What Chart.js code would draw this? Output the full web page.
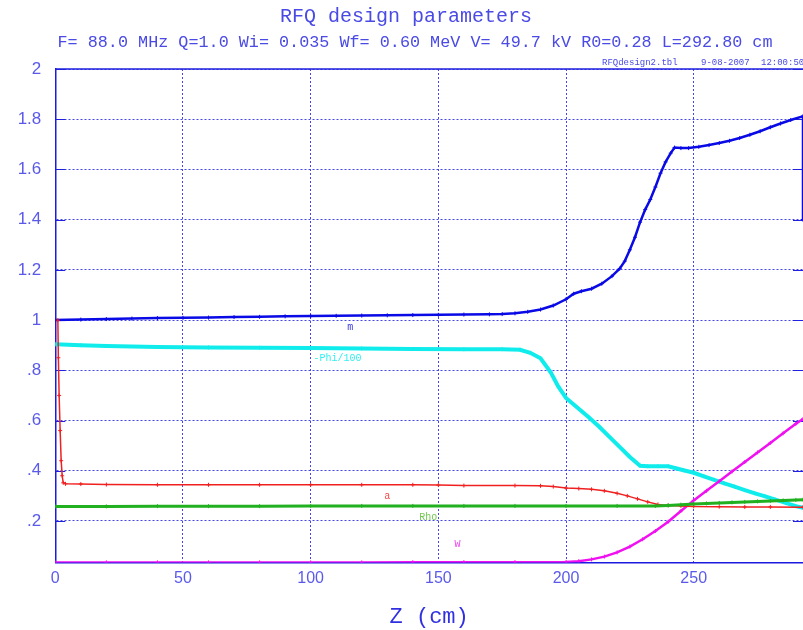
<!DOCTYPE html>
<html>
<head>
<meta charset="utf-8">
<title>RFQ design parameters</title>
<script src="https://cdn.jsdelivr.net/npm/chart.js@4.4.1/dist/chart.umd.min.js"></script>
<style>
  html, body { margin: 0; padding: 0; background: #fff; overflow: hidden; }
  canvas { display: block; }
</style>
</head>
<body>
<canvas id="rfqChart" width="803" height="630"></canvas>
<script>
// texts
const titleText = 'RFQ design parameters';
const subtitleText = 'F= 88.0 MHz Q=1.0 Wi= 0.035 Wf= 0.60 MeV V= 49.7 kV R0=0.28 L=292.80 cm';
const stampFile = 'RFQdesign2.tbl';
const stampDate = '9-08-2007';
const stampTime = '12:00:50';
const xTitle = 'Z (cm)';

// axes
const xTicks = [0, 50, 100, 150, 200, 250];
const yTicks = [0.2, 0.4, 0.6, 0.8, 1.0, 1.2, 1.4, 1.6, 1.8, 2.0];

// m
const zM = [0, 10, 20, 30, 40, 50, 60, 70, 80, 90, 100, 110, 120, 130, 140, 150, 160, 170, 175, 180, 185, 190, 195, 200, 203, 206, 210, 214, 218, 221, 223, 225, 227, 229, 231, 233, 235, 237, 239, 241, 242.5, 245, 248, 252, 256, 260, 264, 268, 272, 276, 280, 284, 288, 292.8, 292.8];
const mVals = [1.000, 1.002, 1.004, 1.006, 1.008, 1.009, 1.010, 1.012, 1.013, 1.015, 1.016, 1.017, 1.018, 1.019, 1.020, 1.021, 1.022, 1.023, 1.024, 1.027, 1.033, 1.042, 1.058, 1.083, 1.105, 1.115, 1.125, 1.145, 1.175, 1.205, 1.235, 1.28, 1.33, 1.39, 1.44, 1.48, 1.53, 1.585, 1.63, 1.665, 1.687, 1.685, 1.685, 1.690, 1.697, 1.705, 1.714, 1.725, 1.738, 1.752, 1.768, 1.783, 1.797, 1.812, 1.40];

// -Phi/100
const zPhi = [0, 10, 20, 40, 60, 80, 100, 120, 140, 160, 175, 182, 186, 190, 194, 197, 200, 203, 206, 209, 213, 217, 221, 225, 229, 232, 236, 240, 243, 246, 250, 254, 258, 262, 266, 270, 274, 278, 282, 286, 290, 292.8];
const phiVals = [0.904, 0.900, 0.897, 0.893, 0.891, 0.890, 0.889, 0.887, 0.885, 0.884, 0.884, 0.882, 0.870, 0.848, 0.792, 0.735, 0.690, 0.664, 0.638, 0.612, 0.575, 0.535, 0.495, 0.455, 0.420, 0.418, 0.418, 0.418, 0.410, 0.402, 0.392, 0.378, 0.364, 0.350, 0.337, 0.323, 0.310, 0.298, 0.285, 0.272, 0.259, 0.252];

// a
const zA = [1.0, 1.2, 1.5, 1.9, 2.3, 2.7, 3.1, 4, 10, 20, 40, 60, 80, 100, 120, 140, 150, 160, 180, 190, 195, 200, 205, 210, 215, 220, 224, 228, 232, 236, 240, 245, 250, 260, 270, 280, 292.8];
const aVals = [1.0, 0.85, 0.70, 0.56, 0.44, 0.38, 0.352, 0.348, 0.347, 0.345, 0.344, 0.344, 0.344, 0.344, 0.344, 0.344, 0.343, 0.341, 0.341, 0.340, 0.337, 0.331, 0.329, 0.326, 0.320, 0.310, 0.300, 0.288, 0.276, 0.266, 0.262, 0.260, 0.258, 0.257, 0.256, 0.256, 0.255];

// Rho
const zRho = [0, 20, 40, 60, 80, 100, 120, 140, 160, 180, 200, 220, 235, 240, 245, 250, 255, 260, 265, 270, 275, 280, 285, 290, 292.8];
const rhoVals = [0.258, 0.258, 0.259, 0.259, 0.259, 0.260, 0.260, 0.260, 0.260, 0.260, 0.260, 0.260, 0.260, 0.262, 0.265, 0.268, 0.270, 0.272, 0.274, 0.276, 0.278, 0.280, 0.282, 0.284, 0.285];

// W
const zW = [0, 20, 40, 60, 80, 100, 120, 140, 160, 180, 200, 205, 210, 215, 220, 225, 230, 235, 240, 245, 250, 255, 260, 265, 270, 275, 280, 285, 290, 292.8];
const wVals = [0.035, 0.035, 0.035, 0.035, 0.035, 0.035, 0.035, 0.036, 0.036, 0.036, 0.037, 0.040, 0.047, 0.058, 0.075, 0.098, 0.127, 0.160, 0.197, 0.240, 0.282, 0.320, 0.358, 0.397, 0.435, 0.473, 0.511, 0.549, 0.587, 0.606];

// curve names, placed at data coordinates
const curveNames = ['m', '-Phi/100', 'a', 'Rho', 'W'];
const nameZ = [115.5, 110.5, 130, 146, 157.5];
const nameV = [0.973, 0.846, 0.297, 0.213, 0.106];
const nameColors = ['#3a3ae0', '#30f0f0', '#f04848', '#70c850', '#f040f0'];

const toPoints = (xs, ys) => xs.map((x, i) => ({ x: x, y: ys[i] }));

const blue = '#4a4ae4';
const tickBlue = '#5a5aea';
const gridBlue = '#4646e2';

const textPlugin = {
  id: 'rfqText',
  beforeDatasetsDraw(chart) {
    const { ctx, chartArea, scales } = chart;
    ctx.save();
    // solid frame top and inward y ticks
    ctx.strokeStyle = '#2020e0';
    ctx.lineWidth = 1.5;
    ctx.beginPath();
    ctx.moveTo(chartArea.left, chartArea.top);
    ctx.lineTo(chartArea.right, chartArea.top);
    ctx.stroke();
    ctx.lineWidth = 1;
    yTicks.forEach(v => {
      const y = Math.round(scales.y.getPixelForValue(v)) + 0.5;
      ctx.beginPath();
      ctx.moveTo(chartArea.left, y);
      ctx.lineTo(chartArea.left + 10, y);
      ctx.moveTo(chartArea.right - 10, y);
      ctx.lineTo(chartArea.right, y);
      ctx.stroke();
    });
    ctx.restore();
  },
  afterDraw(chart) {
    const { ctx, scales } = chart;
    ctx.save();
    ctx.textBaseline = 'middle';
    ctx.fillStyle = blue;
    ctx.textAlign = 'center';
    ctx.font = '20px "Liberation Mono"';
    ctx.fillText(titleText, 406, 17);
    ctx.font = '16.8px "Liberation Mono"';
    ctx.fillText(subtitleText, 415, 43);
    ctx.textAlign = 'left';
    ctx.font = '9px "Liberation Mono"';
    ctx.fillText(stampFile, 602, 63);
    ctx.fillText(stampDate, 701, 63);
    ctx.fillText(stampTime, 761, 63);
    ctx.font = '10px "Liberation Mono"';
    curveNames.forEach((name, i) => {
      ctx.fillStyle = nameColors[i];
      const x = scales.x.getPixelForValue(nameZ[i]);
      const y = scales.y.getPixelForValue(nameV[i]);
      ctx.fillText(name, x - ctx.measureText(name).width / 2, y);
    });
    ctx.restore();
  }
};

const lineSet = (label, xs, ys, color, width) => ({
  label: label,
  data: toPoints(xs, ys),
  borderColor: color,
  backgroundColor: color,
  borderWidth: width,
  pointStyle: 'cross',
  pointRadius: 2,
  pointBorderWidth: 1,
  tension: 0,
  fill: false
});

new Chart(document.getElementById('rfqChart'), {
  type: 'line',
  data: {
    datasets: [
      lineSet('Rho', zRho, rhoVals, '#20b020', 3),
      lineSet('a', zA, aVals, '#f02020', 1.5),
      lineSet('W', zW, wVals, '#f010f0', 2.5),
      lineSet('-Phi/100', zPhi, phiVals, '#10ecec', 4),
      lineSet('m', zM, mVals, '#0a0ae6', 2.5)
    ]
  },
  options: {
    responsive: false,
    animation: false,
    devicePixelRatio: 1,
    layout: { autoPadding: false, padding: { left: 13.3, right: 0, top: 69, bottom: 0 } },
    plugins: {
      legend: { display: false },
      tooltip: { enabled: false },
      title: { display: false }
    },
    scales: {
      x: {
        type: 'linear',
        min: 0,
        max: 292.8,
        afterBuildTicks: s => { s.ticks = xTicks.map(v => ({ value: v })); },
        afterFit: s => { s.height = 67.6; s.paddingLeft = 0; s.paddingRight = 0; },
        ticks: {
          color: tickBlue,
          font: { family: 'Liberation Sans', size: 16 },
          padding: 7,
          maxRotation: 0,
          callback: v => String(v)
        },
        grid: { color: gridBlue, lineWidth: 1, drawTicks: false },
        border: { display: true, color: '#1a1ae0', width: 1.5, dash: [2, 2] },
        title: {
          display: true,
          text: xTitle,
          color: '#3030e0',
          font: { family: 'Liberation Mono', size: 22 },
          padding: { top: 15, bottom: 0 }
        }
      },
      y: {
        type: 'linear',
        min: 0.035,
        max: 2,
        afterBuildTicks: s => { s.ticks = yTicks.map(v => ({ value: v })); },
        afterFit: s => { s.width = 42; s.paddingTop = 0; s.paddingBottom = 0; },
        ticks: {
          color: tickBlue,
          font: { family: 'Liberation Sans', size: 17 },
          padding: 14,
          callback: v => v >= 0.999 ? String(+v.toFixed(1)) : '.' + Math.round(v * 10)
        },
        grid: { color: gridBlue, lineWidth: 1, drawTicks: false },
        border: { display: true, color: '#1a1ae0', width: 1.5, dash: [2, 2] }
      }
    }
  },
  plugins: [textPlugin]
});
</script>
</body>
</html>
